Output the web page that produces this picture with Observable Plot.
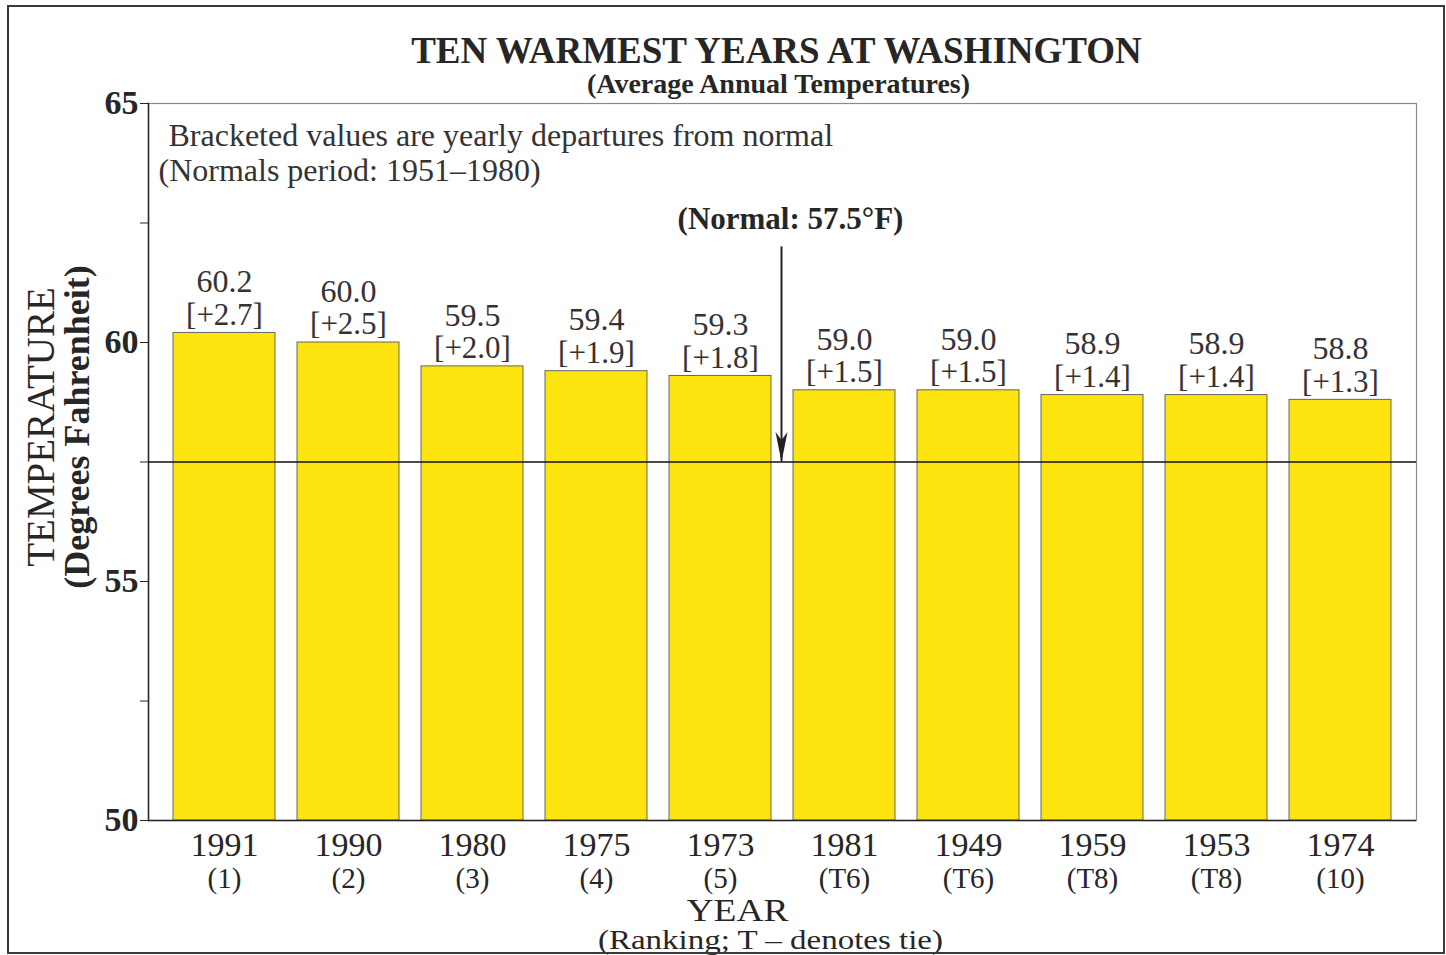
<!DOCTYPE html>
<html>
<head>
<meta charset="utf-8">
<script src="https://cdn.jsdelivr.net/npm/d3@7"></script>
<script src="https://cdn.jsdelivr.net/npm/@observablehq/plot@0.6"></script>
<style>
  html, body { margin: 0; padding: 0; background: #fff; }
  #wrap { position: relative; width: 1446px; height: 955px; overflow: hidden; }
  #border { position: absolute; left: 7px; top: 5px; width: 1434px; height: 945px; border: 2px solid #3a3a3a; pointer-events: none; }
  svg { font-family: "Liberation Serif", "Times New Roman", serif; }
</style>
</head>
<body>
<div id="wrap"><div id="border"></div></div>
<script>
const years = ["1991","1990","1980","1975","1973","1981","1949","1959","1953","1974"];
const ranks = ["(1)","(2)","(3)","(4)","(5)","(T6)","(T6)","(T8)","(T8)","(10)"];
const temps = [60.2, 60.0, 59.5, 59.4, 59.3, 59.0, 59.0, 58.9, 58.9, 58.8];
const departures = ["+2.7","+2.5","+2.0","+1.9","+1.8","+1.5","+1.5","+1.4","+1.4","+1.3"];
const yDomain = [50, 65];
const yMajorTicks = [50, 55, 60, 65];
const yMinorTicks = [52.5, 57.5, 62.5];
const normal = 57.5;
const arrowTop = 62;
const arrowAfterYear = "1973";

const titleText = "TEN WARMEST YEARS AT WASHINGTON";
const subtitleText = "(Average Annual Temperatures)";
const noteLine1 = "Bracketed values are yearly departures from normal";
const noteLine2 = "(Normals period: 1951\u20131980)";
const normalLabel = "(Normal: 57.5\u00B0F)";
const yLabel1 = "TEMPERATURE";
const yLabel2 = "(Degrees Fahrenheit)";
const xLabel1 = "YEAR";
const xLabel2 = "(Ranking; T \u2013 denotes tie)";

const data = years.map((y, i) => ({year: y, rank: ranks[i], temp: temps[i], dep: departures[i]}));
const ink = "#262626";
const barFill = "#fde40f";

const plot = Plot.plot({
  width: 1446,
  height: 955,
  marginLeft: 148,
  marginRight: 30,
  marginTop: 103,
  marginBottom: 135,
  style: {fontFamily: "'Liberation Serif', 'Times New Roman', serif", color: ink, background: "transparent"},
  x: {type: "band", domain: years, paddingInner: 0.174, paddingOuter: 0.087, insetLeft: 14, insetRight: 13, axis: null},
  y: {domain: yDomain, axis: null},
  marks: [
    Plot.frame({stroke: "#8a8a8a", strokeWidth: 1.2}),
    Plot.barY(data, {x: "year", y1: yDomain[0], y2: "temp", fill: barFill, stroke: "#666", strokeWidth: 1}),
    Plot.frame({anchor: "left", stroke: ink, strokeWidth: 1.5}),
    Plot.ruleY([yDomain[0]], {stroke: ink, strokeWidth: 1.5}),
    Plot.axisY({ticks: yMajorTicks, tickSize: 8, tickPadding: 2, fontSize: 34, fontWeight: "bold", stroke: ink, fill: ink, label: null, tickFormat: d => String(d)}),
    Plot.axisY({ticks: yMinorTicks, tickSize: 8, stroke: ink, label: null, tickFormat: () => ""}),
    Plot.ruleY([normal], {stroke: "#111", strokeWidth: 1.6}),
    Plot.ruleX([arrowAfterYear], {x: d => d, y1: arrowTop, y2: normal, dx: 61, stroke: "#222", strokeWidth: 2}),
    Plot.dot([arrowAfterYear], {x: d => d, y: normal, dx: 61, fill: "#222", stroke: "none", r: 1,
      symbol: {draw(ctx) { ctx.moveTo(-6, -30); ctx.lineTo(0, -22); ctx.lineTo(6, -30); ctx.lineTo(0, 0); ctx.closePath(); }}}),
    Plot.text([normalLabel], {x: () => arrowAfterYear, y: () => arrowTop, dx: 70, dy: -28, fontSize: 31, fontWeight: "bold", fill: ink}),
    Plot.text(data, {x: "year", y: "temp", text: d => d.temp.toFixed(1), dy: -51, fontSize: 32, fill: "#333"}),
    Plot.text(data, {x: "year", y: "temp", text: d => `[${d.dep}]`, dy: -18, fontSize: 31, fill: "#333"}),
    Plot.text([noteLine1], {frameAnchor: "top-left", textAnchor: "start", lineAnchor: "middle", dx: 20, dy: 32, fontSize: 32, fill: "#333"}),
    Plot.text([noteLine2], {frameAnchor: "top-left", textAnchor: "start", lineAnchor: "middle", dx: 10, dy: 67, fontSize: 32, fill: "#333"}),
    Plot.text([titleText], {frameAnchor: "top", lineAnchor: "middle", dx: -6, dy: -52, fontSize: 37, fontWeight: "bold", fill: ink}),
    Plot.text([subtitleText], {frameAnchor: "top", lineAnchor: "middle", dx: -4, dy: -19, fontSize: 28, fontWeight: "bold", fill: ink}),
    Plot.text([yLabel1], {frameAnchor: "left", textAnchor: "middle", lineAnchor: "middle", rotate: -90, dx: -107, dy: -35, fontSize: 39, fill: ink}),
    Plot.text([yLabel2], {frameAnchor: "left", textAnchor: "middle", lineAnchor: "middle", rotate: -90, dx: -71, dy: -35, fontSize: 36, fontWeight: "bold", fill: ink}),
    Plot.text(data, {x: "year", text: "year", frameAnchor: "bottom", lineAnchor: "middle", dy: 25, fontSize: 34, fill: ink}),
    Plot.text(data, {x: "year", text: "rank", frameAnchor: "bottom", lineAnchor: "middle", dy: 58, fontSize: 29, fill: ink}),
    Plot.text([xLabel1], {frameAnchor: "bottom", lineAnchor: "middle", dx: -45, dy: 90, fontSize: 32, fill: ink}),
    Plot.text([xLabel2], {frameAnchor: "bottom", lineAnchor: "middle", dx: -12, dy: 120, fontSize: 27, fill: ink})
  ]
});
// stretch the condensed bottom labels to the reference's widths
d3.select(plot).selectAll("text").each(function() {
  if (this.textContent === xLabel2) d3.select(this).attr("textLength", 345).attr("lengthAdjust", "spacingAndGlyphs");
  if (this.textContent === xLabel1) d3.select(this).attr("textLength", 102).attr("lengthAdjust", "spacingAndGlyphs");
});
document.getElementById("wrap").prepend(plot);
</script>
</body>
</html>
